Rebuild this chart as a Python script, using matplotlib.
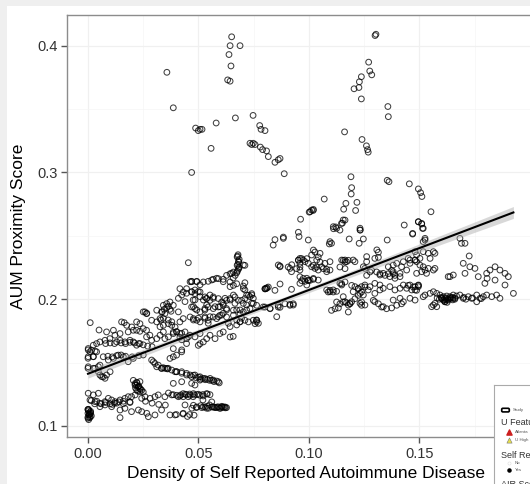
import numpy as np
import matplotlib
matplotlib.use("Agg")
import matplotlib.pyplot as plt
from matplotlib.patches import Rectangle, FancyBboxPatch

plt.rcParams['font.family'] = ['Liberation Sans', 'DejaVu Sans']

# ---- data (density, proximity score) ----
# sparse high points
upper_x = [0.0357, 0.0386, 0.0469, 0.0487, 0.0499, 0.0507, 0.0516, 0.0557, 0.0580, 0.0650,
           0.0643, 0.0688, 0.0638, 0.0647, 0.0632, 0.0643, 0.0667, 0.0747, 0.0733, 0.0741,
           0.0748, 0.0756, 0.0777, 0.0783, 0.0780, 0.0790, 0.1303, 0.1299, 0.1270, 0.1275,
           0.1284, 0.1237, 0.1228, 0.1226, 0.1204, 0.1237, 0.1357, 0.1359, 0.1161, 0.1240,
           0.1260, 0.1265, 0.1268, 0.0801, 0.0808, 0.0816, 0.0846, 0.0861, 0.0869, 0.0888,
           0.1190, 0.1193, 0.1191, 0.1354, 0.1362, 0.1454, 0.1495, 0.1505, 0.1511, 0.1069,
           0.1167, 0.1157, 0.1211, 0.1217, 0.1005, 0.1019, 0.0962, 0.1155, 0.1151, 0.1121,
           0.1111, 0.1140, 0.1231, 0.1232, 0.0952, 0.0955, 0.1552, 0.1431, 0.1469, 0.1495,
           0.1510, 0.1514, 0.1525, 0.0846, 0.0884, 0.1012, 0.1001, 0.1020, 0.1147, 0.1163,
           0.1110, 0.1125, 0.1231, 0.1095, 0.1102, 0.1092, 0.1182, 0.1246, 0.1227, 0.1354,
           0.1307, 0.1314, 0.0884, 0.0838, 0.0997, 0.1495, 0.1510, 0.1517, 0.1469, 0.1525,
           0.1517, 0.1683, 0.1690, 0.1706]
upper_y = [0.379, 0.351, 0.300, 0.335, 0.333, 0.334, 0.334, 0.319, 0.339, 0.407,
           0.400, 0.400, 0.393, 0.384, 0.373, 0.372, 0.343, 0.345, 0.323, 0.322,
           0.323, 0.322, 0.337, 0.334, 0.320, 0.318, 0.409, 0.408, 0.387, 0.380,
           0.377, 0.3755, 0.3715, 0.367, 0.366, 0.358, 0.352, 0.344, 0.332, 0.326,
           0.321, 0.318, 0.316, 0.333, 0.317, 0.3125, 0.308, 0.310, 0.311, 0.299,
           0.2966, 0.288, 0.283, 0.2938, 0.2927, 0.291, 0.287, 0.284, 0.281, 0.279,
           0.2756, 0.271, 0.270, 0.2764, 0.269, 0.270, 0.2631, 0.2625, 0.260, 0.257,
           0.2556, 0.2545, 0.256, 0.2545, 0.2528, 0.2494, 0.269, 0.2585, 0.2514, 0.2611,
           0.2593, 0.2559, 0.248, 0.247, 0.249, 0.2703, 0.2687, 0.2708, 0.2598, 0.2624,
           0.2572, 0.2559, 0.2546, 0.2454, 0.2441, 0.2436, 0.2475, 0.2475, 0.2441, 0.2467,
           0.2389, 0.2370, 0.248, 0.2427, 0.2467, 0.2611, 0.2598, 0.2559, 0.2519, 0.2467,
           0.2454, 0.2480, 0.2441, 0.2441]

# main cloud, left part
left_x = [0.0454, 0.0462, 0.0010, 0.0050, 0.0164, 0.0258, 0.0266, 0.0336, 0.0345, 0.0356,
          0.0364, 0.0371, 0.0376, 0.0330, 0.0409, 0.0424, 0.0446, 0.0439, 0.0469, 0.0476,
          0.0341, 0.0363, 0.0379, 0.0326, 0.0424, 0.0454, 0.0469, 0.0492, 0.0507, 0.0522,
          0.0544, 0.0567, 0.0590, 0.0612, 0.0627, 0.0643, 0.0658, 0.0643, 0.0658, 0.0673,
          0.0416, 0.0431, 0.0446, 0.0469, 0.0484, 0.0507, 0.0529, 0.0537, 0.0552, 0.0567,
          0.0590, 0.0605, 0.0627, 0.0643, 0.0665, 0.0680, 0.0695, 0.0710, 0.0726, 0.0741,
          0.0703, 0.0341, 0.0356, 0.0371, 0.0386, 0.0311, 0.0333, 0.0348, 0.0409, 0.0469,
          0.0484, 0.0507, 0.0529, 0.0544, 0.0567, 0.0590, 0.0612, 0.0627, 0.0658, 0.0688,
          0.0703, 0.0733, 0.0763, 0.0793, 0.0250, 0.0265, 0.0220, 0.0235, 0.0250, 0.0265,
          0.0288, 0.0311, 0.0326, 0.0341, 0.0364, 0.0379, 0.0394, 0.0416, 0.0431, 0.0462,
          0.0477, 0.0492, 0.0507, 0.0529, 0.0544, 0.0567, 0.0582, 0.0597, 0.0627, 0.0658,
          0.0673, 0.0688, 0.0710, 0.0726, 0.0748, 0.0763, 0.0763, 0.0756, 0.0643, 0.0657,
          0.0507, 0.0499, 0.0679, 0.0675, 0.0684, 0.0682, 0.0675, 0.0684, 0.0680, 0.0673,
          0.0666, 0.0657, 0.0710, 0.0703, 0.0650, 0.0710, 0.0703, 0.0710, 0.0718, 0.0741,
          0.0748, 0.0741]
left_y = [0.2288, 0.2138, 0.1815, 0.1757, 0.1815, 0.1900, 0.1889, 0.1900, 0.1920, 0.1935,
          0.1945, 0.1920, 0.1905, 0.1836, 0.2007, 0.2033, 0.2047, 0.1981, 0.2060, 0.1994,
          0.1849, 0.1836, 0.1822, 0.1783, 0.1731, 0.1704, 0.2141, 0.2141, 0.2114, 0.2136,
          0.2141, 0.2157, 0.2162, 0.2157, 0.2188, 0.2201, 0.2214, 0.2136, 0.2109, 0.2122,
          0.2083, 0.2057, 0.2083, 0.2057, 0.2044, 0.2057, 0.2018, 0.2005, 0.1991, 0.2018,
          0.2005, 0.1978, 0.1991, 0.2005, 0.2018, 0.1991, 0.1991, 0.2005, 0.2031, 0.2044,
          0.2083, 0.1952, 0.1965, 0.1978, 0.1952, 0.1913, 0.1900, 0.1886, 0.1900, 0.1939,
          0.1926, 0.1900, 0.1926, 0.1939, 0.1926, 0.1939, 0.1952, 0.1926, 0.1913, 0.1886,
          0.1900, 0.1926, 0.1952, 0.1939, 0.1900, 0.1886, 0.1821, 0.1807, 0.1768, 0.1755,
          0.1834, 0.1821, 0.1847, 0.1794, 0.1807, 0.1794, 0.1781, 0.1821, 0.1847, 0.1860,
          0.1847, 0.1834, 0.1821, 0.1860, 0.1834, 0.1860, 0.1847, 0.1873, 0.1860, 0.1873,
          0.1834, 0.1821, 0.1834, 0.1821, 0.1834, 0.1821, 0.1834, 0.1807, 0.1702, 0.1707,
          0.1649, 0.1636, 0.2351, 0.2333, 0.2315, 0.2293, 0.2267, 0.2254, 0.2236, 0.2209,
          0.2188, 0.2167, 0.2267, 0.2270, 0.2204, 0.2130, 0.2104, 0.2073, 0.2033, 0.2033,
          0.2007, 0.1968]

# cloud around the fit line, x below 0.08
near_x = [0.0152, 0.0175, 0.0198, 0.0205, 0.0220, 0.0235, 0.0182, 0.0145, 0.0122, 0.0099,
          0.0077, 0.0054, 0.0039, 0.0024, 0.0084, 0.0115, 0.0130, 0.0145, 0.0167, 0.0190,
          0.0205, 0.0220, 0.0235, 0.0265, 0.0280, 0.0288, 0.0311, 0.0326, 0.0341, 0.0348,
          0.0364, 0.0386, 0.0401, 0.0416, 0.0439, 0.0446, 0.0462, 0.0484, 0.0507, 0.0522,
          0.0537, 0.0552, 0.0575, 0.0597, 0.0612, 0.0001, 0.0016, 0.0039, 0.0001, 0.0024,
          0.0001, 0.0031, 0.0054, 0.0069, 0.0092, 0.0115, 0.0137, 0.0160, 0.0182, 0.0205,
          0.0054, 0.0069, 0.0084, 0.0047, 0.0001, 0.0009, 0.0032, 0.0000, 0.0024, 0.0000,
          0.0024, 0.0047, 0.0062, 0.0077, 0.0100, 0.0080, 0.0100, 0.0120, 0.0150, 0.0170,
          0.0190, 0.0210, 0.0230, 0.0250, 0.0270, 0.0290, 0.0090, 0.0110, 0.0130, 0.0150,
          0.0170, 0.0200, 0.0230, 0.0250, 0.0492, 0.0469, 0.0484, 0.0499, 0.0507, 0.0522,
          0.0537, 0.0552, 0.0560, 0.0582, 0.0612, 0.0643, 0.0484, 0.0477, 0.0492, 0.0537,
          0.0529, 0.0567, 0.0575, 0.0597, 0.0612, 0.0620, 0.0643, 0.0658, 0.0665, 0.0673,
          0.0688, 0.0703, 0.0718, 0.0733, 0.0748, 0.0718, 0.0695, 0.0673, 0.0688, 0.0763,
          0.0771, 0.0477, 0.0499, 0.0529, 0.0544, 0.0552, 0.0590, 0.0605, 0.0612, 0.0627,
          0.0635, 0.0643, 0.0386, 0.0401, 0.0416, 0.0424, 0.0446, 0.0424, 0.0386]
near_y = [0.1821, 0.1794, 0.1781, 0.1755, 0.1755, 0.1747, 0.1742, 0.1729, 0.1716, 0.1689,
          0.1676, 0.1663, 0.1650, 0.1637, 0.1742, 0.1755, 0.1663, 0.1676, 0.1663, 0.1676,
          0.1663, 0.1637, 0.1650, 0.1703, 0.1716, 0.1676, 0.1689, 0.1716, 0.1742, 0.1689,
          0.1703, 0.1729, 0.1742, 0.1729, 0.1742, 0.1689, 0.1716, 0.1703, 0.1729, 0.1663,
          0.1689, 0.1716, 0.1689, 0.1729, 0.1742, 0.1611, 0.1598, 0.1585, 0.1546, 0.1546,
          0.1467, 0.1454, 0.1480, 0.1546, 0.1520, 0.1533, 0.1559, 0.1546, 0.1507, 0.1533,
          0.1402, 0.1388, 0.1402, 0.1428, 0.1600, 0.1586, 0.1590, 0.1534, 0.1547, 0.1455,
          0.1455, 0.1468, 0.1389, 0.1376, 0.1428, 0.1650, 0.1655, 0.1650, 0.1655, 0.1650,
          0.1660, 0.1655, 0.1650, 0.1640, 0.1630, 0.1625, 0.1550, 0.1545, 0.1555, 0.1560,
          0.1550, 0.1545, 0.1555, 0.1560, 0.2138, 0.2138, 0.2073, 0.2060, 0.2020, 0.1994,
          0.2007, 0.2033, 0.2152, 0.2165, 0.2138, 0.2099, 0.1994, 0.1941, 0.1915, 0.1954,
          0.1915, 0.2007, 0.1941, 0.1941, 0.1967, 0.2007, 0.1994, 0.2033, 0.1967, 0.1915,
          0.1915, 0.1967, 0.1954, 0.2020, 0.1967, 0.1915, 0.1850, 0.1797, 0.1823, 0.1836,
          0.1810, 0.1836, 0.1850, 0.1850, 0.1810, 0.1862, 0.1862, 0.1875, 0.1889, 0.1915,
          0.1810, 0.1784, 0.1740, 0.1745, 0.1700, 0.1680, 0.1650, 0.1600, 0.1610]

# middle band falling from 0.15 to 0.135
mid_x = [0.0288, 0.0303, 0.0311, 0.0333, 0.0356, 0.0379, 0.0401, 0.0424, 0.0446, 0.0462,
         0.0484, 0.0507, 0.0529, 0.0552, 0.0567, 0.0582, 0.0590, 0.0386, 0.0424, 0.0469,
         0.0484, 0.0507, 0.0371, 0.0386, 0.0401, 0.0424, 0.0296, 0.0318, 0.0333, 0.0348,
         0.0363, 0.0394, 0.0400, 0.0424, 0.0446, 0.0469, 0.0477, 0.0490, 0.0510, 0.0530,
         0.0550, 0.0570, 0.0594, 0.0500, 0.0520, 0.0540, 0.0560, 0.0340, 0.0360]
mid_y = [0.1520, 0.1493, 0.1467, 0.1454, 0.1454, 0.1441, 0.1428, 0.1428, 0.1415, 0.1402,
         0.1402, 0.1388, 0.1375, 0.1375, 0.1362, 0.1354, 0.1349, 0.1336, 0.1349, 0.1336,
         0.1323, 0.1362, 0.1533, 0.1546, 0.1559, 0.1585, 0.1507, 0.1480, 0.1455, 0.1455,
         0.1455, 0.1428, 0.1428, 0.1416, 0.1402, 0.1389, 0.1400, 0.1380, 0.1370, 0.1365,
         0.1360, 0.1350, 0.1340, 0.1385, 0.1375, 0.1368, 0.1360, 0.1460, 0.1450]

# low band between 0.105 and 0.135
low_x = [0.0001, 0.0024, 0.0047, 0.0009, 0.0032, 0.0054, 0.0077, 0.0092, 0.0107, 0.0122,
         0.0145, 0.0167, 0.0182, 0.0197, 0.0213, 0.0220, 0.0213, 0.0228, 0.0235, 0.0243,
         0.0258, 0.0281, 0.0303, 0.0318, 0.0348, 0.0379, 0.0409, 0.0431, 0.0454, 0.0476,
         0.0000, 0.0010, 0.0000, 0.0005, 0.0012, 0.0003, 0.0008, 0.0002, 0.0054, 0.0077,
         0.0107, 0.0145, 0.0167, 0.0197, 0.0228, 0.0243, 0.0266, 0.0273, 0.0303, 0.0333,
         0.0371, 0.0394, 0.0431, 0.0439, 0.0145, 0.0205, 0.0213, 0.0220, 0.0228, 0.0235,
         0.0243, 0.0250, 0.0220, 0.0235, 0.0364, 0.0386, 0.0401, 0.0416, 0.0431, 0.0446,
         0.0462, 0.0477, 0.0492, 0.0507, 0.0522, 0.0537, 0.0552, 0.0477, 0.0492, 0.0522,
         0.0537, 0.0560, 0.0575, 0.0590, 0.0605, 0.0620, 0.0627, 0.0510, 0.0540, 0.0570,
         0.0600, 0.0615, 0.0470, 0.0490, 0.0520, 0.0550, 0.0560, 0.0400, 0.0430, 0.0460,
         0.0480, 0.0000, 0.0015, 0.0060, 0.0110, 0.0130, 0.0160, 0.0190, 0.0260, 0.0290,
         0.0320, 0.0350, 0.0450]
low_y = [0.1258, 0.1245, 0.1258, 0.1205, 0.1192, 0.1179, 0.1192, 0.1218, 0.1205, 0.1192,
         0.1205, 0.1218, 0.1231, 0.1231, 0.1245, 0.1284, 0.1323, 0.1310, 0.1271, 0.1218,
         0.1231, 0.1218, 0.1231, 0.1245, 0.1231, 0.1245, 0.1231, 0.1231, 0.1231, 0.1231,
         0.1100, 0.1073, 0.1061, 0.1085, 0.1115, 0.1130, 0.1095, 0.1120, 0.1152, 0.1166,
         0.1152, 0.1126, 0.1139, 0.1113, 0.1126, 0.1113, 0.1100, 0.1073, 0.1087, 0.1126,
         0.1087, 0.1087, 0.1100, 0.1166, 0.1066, 0.1360, 0.1334, 0.1321, 0.1308, 0.1295,
         0.1282, 0.1268, 0.1345, 0.1350, 0.1260, 0.1247, 0.1242, 0.1237, 0.1255, 0.1247,
         0.1242, 0.1255, 0.1247, 0.1242, 0.1237, 0.1255, 0.1247, 0.1163, 0.1150, 0.1150,
         0.1140, 0.1150, 0.1145, 0.1150, 0.1148, 0.1150, 0.1145, 0.1160, 0.1155, 0.1150,
         0.1140, 0.1148, 0.1140, 0.1145, 0.1205, 0.1166, 0.1190, 0.1090, 0.1095, 0.1090,
         0.1085, 0.1130, 0.1200, 0.1175, 0.1170, 0.1180, 0.1175, 0.1190, 0.1195, 0.1180,
         0.1170, 0.1165, 0.1075]

# heavily overplotted spots (dark clumps in the picture)
dense_x = [0.0000, 0.0005, 0.0010, 0.0000, 0.0008, 0.0015, 0.0003, 0.0012,
           0.0515, 0.0530, 0.0545, 0.0565, 0.0580, 0.0595, 0.0610, 0.0622, 0.0605, 0.0585,
           0.0440, 0.0460, 0.0480, 0.0500, 0.0520, 0.0540, 0.0420,
           0.0222, 0.0230, 0.0238, 0.0215, 0.0225,
           0.0030, 0.0080, 0.0120, 0.0160, 0.0190, 0.0040, 0.0100, 0.0140,
           0.1600, 0.1610, 0.1620, 0.1630, 0.1640, 0.1650, 0.1660, 0.1615, 0.1625,
           0.0677, 0.0681, 0.0678, 0.0683, 0.0676, 0.0804, 0.0810]
dense_y = [0.1070, 0.1090, 0.1110, 0.1130, 0.1065, 0.1080, 0.1050, 0.1100,
           0.1145, 0.1150, 0.1140, 0.1150, 0.1145, 0.1140, 0.1150, 0.1143, 0.1155, 0.1150,
           0.1250, 0.1252, 0.1245, 0.1250, 0.1248, 0.1252, 0.1245,
           0.1340, 0.1315, 0.1290, 0.1300, 0.1275,
           0.1175, 0.1185, 0.1180, 0.1195, 0.1185, 0.1195, 0.1175, 0.1190,
           0.2005, 0.1995, 0.2010, 0.2000, 0.2005, 0.1995, 0.2008, 0.1980, 0.1975,
           0.2340, 0.2300, 0.2275, 0.2245, 0.2220, 0.2083, 0.2090]

# right part, x above 0.08
right_x = [0.0869, 0.0906, 0.0922, 0.0952, 0.0967, 0.0944, 0.0959, 0.0990, 0.1027, 0.1020,
           0.1034, 0.1065, 0.1080, 0.1050, 0.1042, 0.0982, 0.1005, 0.1020, 0.1087, 0.1095,
           0.1110, 0.1125, 0.1155, 0.1163, 0.1178, 0.1140, 0.1163, 0.1148, 0.1163, 0.1193,
           0.1223, 0.1238, 0.1253, 0.1223, 0.1208, 0.1125, 0.1140, 0.1155, 0.1170, 0.1186,
           0.1102, 0.1118, 0.1133, 0.1178, 0.1238, 0.1238, 0.1291, 0.1314, 0.1329, 0.1351,
           0.1374, 0.1397, 0.1419, 0.1261, 0.1276, 0.1283, 0.1306, 0.1321, 0.1344, 0.1359,
           0.1374, 0.1382, 0.1389, 0.1449, 0.1472, 0.1487, 0.1495, 0.0801, 0.0816, 0.0846,
           0.0861, 0.0891, 0.0914, 0.0929, 0.0801, 0.0824, 0.0861, 0.0869, 0.0861, 0.0914,
           0.0921, 0.0952, 0.0959, 0.0982, 0.0959, 0.0808, 0.0801, 0.0869, 0.0921, 0.0967,
           0.0990, 0.0997, 0.0929, 0.0914, 0.0869, 0.0824, 0.0854, 0.1020, 0.1012, 0.1050,
           0.1035, 0.1072, 0.1095, 0.1057, 0.1042, 0.1080, 0.1095, 0.1027, 0.1012, 0.0997,
           0.0974, 0.0959, 0.1148, 0.1163, 0.1170, 0.1200, 0.1208, 0.1261, 0.1261, 0.1246,
           0.1253, 0.1298, 0.1314, 0.1359, 0.1381, 0.1397, 0.1419, 0.1427, 0.1449, 0.1457,
           0.1480, 0.1487, 0.1442, 0.1412, 0.1381, 0.1336, 0.1321, 0.1366, 0.1389, 0.1412,
           0.0959, 0.0974, 0.0997, 0.1020, 0.1042, 0.0959, 0.0990, 0.1080, 0.1095, 0.1110,
           0.1140, 0.1148, 0.1208, 0.1223, 0.1238, 0.1253, 0.1276, 0.1298, 0.1321, 0.1200,
           0.1231, 0.1246, 0.1268, 0.1298, 0.1321, 0.1336, 0.1366, 0.1389, 0.1412, 0.1427,
           0.1442, 0.1465, 0.1480, 0.1495, 0.1155, 0.1163, 0.1185, 0.1193, 0.1178, 0.1231,
           0.1253, 0.1298, 0.1336, 0.1381, 0.1412, 0.1427, 0.1457, 0.1480]
right_y = [0.2262, 0.2254, 0.2272, 0.2307, 0.2320, 0.2241, 0.2254, 0.2320, 0.2372, 0.2267,
           0.2254, 0.2241, 0.2236, 0.2293, 0.2333, 0.2141, 0.2149, 0.2157, 0.2057, 0.2070,
           0.2057, 0.2062, 0.2307, 0.2293, 0.2307, 0.2254, 0.2241, 0.2122, 0.2136, 0.2109,
           0.2082, 0.2057, 0.2096, 0.2030, 0.2004, 0.1978, 0.1964, 0.1978, 0.1972, 0.1964,
           0.1912, 0.1925, 0.1931, 0.1899, 0.1978, 0.1952, 0.1991, 0.1964, 0.1938, 0.1925,
           0.1931, 0.1952, 0.1964, 0.2188, 0.2215, 0.2228, 0.2215, 0.2201, 0.2188, 0.2201,
           0.2228, 0.2201, 0.2188, 0.2109, 0.2096, 0.2070, 0.2109, 0.2083, 0.2096, 0.2070,
           0.1952, 0.1964, 0.1952, 0.1964, 0.1938, 0.1925, 0.1938, 0.2256, 0.2270, 0.2243,
           0.2217, 0.2309, 0.2283, 0.2296, 0.2230, 0.2086, 0.2081, 0.2120, 0.2078, 0.2146,
           0.2165, 0.2146, 0.1954, 0.1960, 0.1936, 0.1928, 0.1862, 0.2388, 0.2349, 0.2362,
           0.2309, 0.2283, 0.2296, 0.2256, 0.2230, 0.2217, 0.2230, 0.2243, 0.2256, 0.2283,
           0.2309, 0.2322, 0.2309, 0.2309, 0.2296, 0.2309, 0.2296, 0.2336, 0.2296, 0.2256,
           0.2243, 0.2322, 0.2330, 0.2256, 0.2269, 0.2283, 0.2256, 0.2296, 0.2322, 0.2283,
           0.2309, 0.2296, 0.2230, 0.2204, 0.2217, 0.2204, 0.2191, 0.2178, 0.2165, 0.2178,
           0.2177, 0.2164, 0.2151, 0.2164, 0.2151, 0.2125, 0.2112, 0.2073, 0.2059, 0.2073,
           0.2125, 0.2112, 0.2099, 0.2086, 0.2099, 0.2112, 0.2099, 0.2125, 0.2112, 0.2059,
           0.2046, 0.2033, 0.2073, 0.2046, 0.2073, 0.2086, 0.2099, 0.2073, 0.2086, 0.2112,
           0.2086, 0.2073, 0.2073, 0.2099, 0.2020, 0.1980, 0.1967, 0.1980, 0.1954, 0.1967,
           0.1954, 0.1980, 0.1941, 0.1993, 0.2007, 0.1980, 0.2007, 0.1993]

# far right, x above 0.145
far_x = [0.1480, 0.1487, 0.1517, 0.1540, 0.1563, 0.1502, 0.1457, 0.1480, 0.1548, 0.1570,
         0.1502, 0.1517, 0.1525, 0.1510, 0.1540, 0.1563, 0.1487, 0.1532, 0.1570, 0.1725,
         0.1698, 0.1728, 0.1751, 0.1766, 0.1706, 0.1653, 0.1630, 0.1804, 0.1819, 0.1842,
         0.1864, 0.1887, 0.1902, 0.1806, 0.1842, 0.1887, 0.1796, 0.1638, 0.1457, 0.1480,
         0.1495, 0.1525, 0.1548, 0.1517, 0.1563, 0.1578, 0.1593, 0.1608, 0.1623, 0.1638,
         0.1653, 0.1668, 0.1683, 0.1698, 0.1721, 0.1736, 0.1759, 0.1774, 0.1789, 0.1804,
         0.1827, 0.1849, 0.1864, 0.1925, 0.1570, 0.1563, 0.1578, 0.1555, 0.1600, 0.1615,
         0.1630, 0.1653, 0.1759, 0.1580, 0.1600, 0.1620, 0.1640, 0.1660, 0.1610, 0.1590,
         0.1700, 0.1710, 0.1740, 0.1780, 0.1620, 0.1650]
far_y = [0.2375, 0.2349, 0.2375, 0.2362, 0.2375, 0.2322, 0.2309, 0.2309, 0.2322, 0.2362,
         0.2269, 0.2256, 0.2230, 0.2217, 0.2243, 0.2230, 0.2204, 0.2204, 0.2243, 0.2341,
         0.2283, 0.2256, 0.2243, 0.2178, 0.2204, 0.2191, 0.2178, 0.2204, 0.2230, 0.2256,
         0.2230, 0.2204, 0.2178, 0.2164, 0.2151, 0.2112, 0.2125, 0.2178, 0.2112, 0.2099,
         0.2112, 0.2033, 0.2046, 0.2020, 0.2059, 0.2046, 0.2033, 0.2020, 0.2025, 0.2020,
         0.2033, 0.2025, 0.2033, 0.2007, 0.2020, 0.2007, 0.2033, 0.2007, 0.2020, 0.2033,
         0.2020, 0.2033, 0.2007, 0.2046, 0.1967, 0.1954, 0.1941, 0.1941, 0.2007, 0.1980,
         0.1993, 0.2007, 0.1980, 0.2010, 0.2015, 0.2005, 0.2012, 0.2000, 0.1990, 0.2000,
         0.2015, 0.2000, 0.2010, 0.2005, 0.1995, 0.2015]

# fitted line as drawn in the picture (lm fit of the full data)
fit_intercept = 0.1412
fit_slope = 0.661
# the picture has many more points than can be told apart (overplotting)
n_total_est = 2400

x_ticks = [0.00, 0.05, 0.10, 0.15]
x_tick_labels = ['0.00', '0.05', '0.10', '0.15']
y_ticks = [0.1, 0.2, 0.3, 0.4]
y_tick_labels = ['0.1', '0.2', '0.3', '0.4']

xs = np.array(upper_x + left_x + near_x + mid_x + low_x + dense_x + right_x + far_x)
ys = np.array(upper_y + left_y + near_y + mid_y + low_y + dense_y + right_y + far_y)

# ---- figure ----
fig = plt.figure(figsize=(5.30, 4.84), dpi=100)
fig.patch.set_facecolor('#efefef')
fig.patches.append(Rectangle((7 / 530, 0), 1, 1 - 6 / 484,
                             transform=fig.transFigure, facecolor='white',
                             edgecolor='none', zorder=-5))

ax = fig.add_axes([67 / 530, 1 - 437 / 484, 478 / 530, 422 / 484])
ax.set_xlim(-0.0095, 0.2068)
ax.set_ylim(0.0913, 0.4242)

# 95% confidence band around the line
resid = ys - (fit_slope * xs + fit_intercept)
s = np.sqrt(np.mean(resid ** 2))
xvar = np.var(xs)
xf = np.linspace(xs.min(), xs.max(), 100)
yf = fit_slope * xf + fit_intercept
se = s * np.sqrt((1.0 + (xf - xs.mean()) ** 2 / xvar) / n_total_est)

ax.scatter(xs, ys, s=17, facecolors='none', edgecolors='black',
           linewidths=0.75, alpha=0.75, zorder=3)
ax.fill_between(xf, yf - 1.96 * se, yf + 1.96 * se, color='#aaaaaa',
                alpha=0.45, linewidth=0, zorder=4)
ax.plot(xf, yf, color='black', linewidth=1.5, zorder=5)

ax.set_xticks(x_ticks)
ax.set_xticklabels(x_tick_labels)
ax.set_yticks(y_ticks)
ax.set_yticklabels(y_tick_labels)
ax.set_xticks([0.025, 0.075, 0.125, 0.175], minor=True)
ax.set_yticks([0.15, 0.25, 0.35], minor=True)
ax.tick_params(which='major', length=4, width=1, color='#555555',
               labelsize=10.5, labelcolor='#333333', pad=3)
ax.tick_params(which='minor', length=0)
ax.grid(which='major', color='#f0f0f0', linewidth=0.9, zorder=0)
ax.grid(which='minor', color='#f5f5f5', linewidth=0.5, zorder=0)
ax.set_axisbelow(True)
for sp in ax.spines.values():
    sp.set_color('#8c8c8c')
    sp.set_linewidth(1.0)

ax.set_xlabel('Density of Self Reported Autoimmune Disease', fontsize=12.5, labelpad=4)
ax.set_ylabel('AUM Proximity Score', fontsize=12.5, labelpad=8)

# legend box, cut off at the corner like the picture
lg = fig.add_axes([494 / 530, -0.2, 0.2, 0.2 + 1 - 385 / 484])
lg.set_xlim(494, 600)
lg.set_ylim(580, 385)
lg.set_xticks([])
lg.set_yticks([])
for sp in lg.spines.values():
    sp.set_color('#aaaaaa')
    sp.set_linewidth(0.8)
lg.add_patch(FancyBboxPatch((502, 408.5), 7, 3, boxstyle='round,pad=0.3,rounding_size=1.2',
                            facecolor='white', edgecolor='black', linewidth=1.2))
lg.text(513, 410, 'Study', fontsize=3.2, color='#555555', va='center')
lg.text(501, 422, 'U Feature', fontsize=6.5, color='#333333', va='center')
lg.scatter([509], [432], marker='^', s=14, color='#cc1f1f')
lg.text(515, 432, 'Atlanta', fontsize=3.2, color='#555555', va='center')
lg.scatter([509], [440], marker='^', s=14, facecolor='#e8e04a', edgecolor='#777777', linewidth=0.4)
lg.text(515, 440, 'U High', fontsize=3.2, color='#555555', va='center')
lg.text(501, 455, 'Self Reported', fontsize=6.5, color='#333333', va='center')
lg.scatter([509], [463], marker='o', s=5, facecolor='white', edgecolor='#dddddd', linewidth=0.4)
lg.text(515, 463, 'No', fontsize=3.2, color='#555555', va='center')
lg.scatter([509], [470], marker='o', s=5, color='black')
lg.text(515, 470, 'Yes', fontsize=3.2, color='#555555', va='center')
lg.text(501, 484, 'AIR Score', fontsize=6.5, color='#333333', va='center')

fig.savefig('out.png', dpi=100, facecolor=fig.get_facecolor())
